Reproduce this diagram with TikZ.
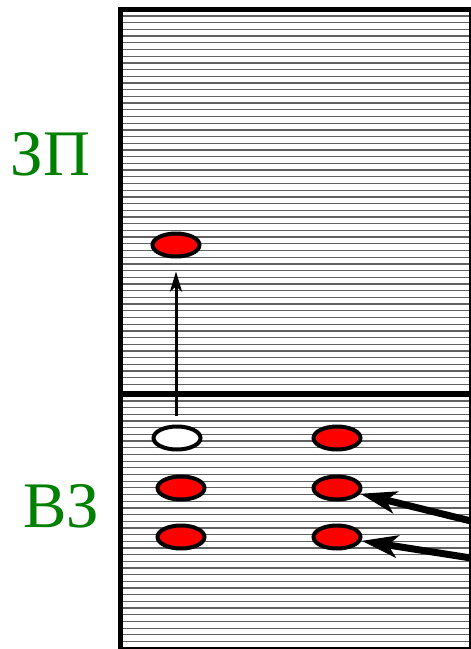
\documentclass[tikz,border=0pt]{standalone}
\usepackage{fontspec}
\setmainfont{Liberation Serif}
\usetikzlibrary{arrows.meta,shapes.geometric}
\definecolor{zgreen}{RGB}{0,128,0}
\definecolor{zred}{RGB}{255,0,0}
\begin{document}
\begin{tikzpicture}[x=1pt,y=-1pt,
  hatch/.style={black!62,line width=1.25pt},
  frame/.style={black,line width=5pt},
  thinframe/.style={black,line width=1.6pt},
  level/.style={ellipse,draw=black,line width=4pt,fill=zred,minimum width=47pt,minimum height=23pt,inner sep=0pt},
  hole/.style={level,fill=white},
  zlabel/.style={font=\fontsize{65}{65}\selectfont,text=zgreen,anchor=base,inner sep=0pt},
  jump/.style={line width=3pt,-{Stealth[length=20pt,width=12pt,inset=5pt]}},
  light/.style={line width=7pt,-{Stealth[length=36pt,width=22pt,inset=9pt]}}]
\useasboundingbox (0,0) rectangle (471,649);
\fill[white] (0,0) rectangle (471,649);
% hatching
\foreach \i in {0,...,55} \draw[hatch] (123,{16+6.7*\i}) -- (470,{16+6.7*\i});
\foreach \i in {0,...,36} \draw[hatch] (123,{401+6.68*\i}) -- (470,{401+6.68*\i});
% frame
\draw[frame] (120.8,7.2) -- (120.8,649);
\draw[frame] (118.3,9.7) -- (471,9.7);
\draw[thinframe] (470.2,9.7) -- (470.2,647.7);
\draw[thinframe] (118.3,647.7) -- (471,647.7);
\draw[line width=5.5pt] (118.3,393.8) -- (471,393.8);
% labels
\node[zlabel] (zp) at (50.5,175) {ЗП};
\node[zlabel] (vz) at (61,527) {ВЗ};
% levels
\node[level] (top) at (176,245) {};
\node[hole] (h) at (177,438) {};
\node[level] (r1) at (337,438) {};
\node[level] (l2) at (181,488) {};
\node[level] (r2) at (337,488) {};
\node[level] (l3) at (181,537) {};
\node[level] (r3) at (337,537) {};
% arrows
\draw[jump,shorten <=8.5pt,shorten >=13pt] (top|-h.north) -- (top.south);
\coordinate (s1) at (471,521);
\coordinate (s2) at (471,558);
\draw[light] (s1) -- (r2);
\draw[light] (s2) -- (r3);
\end{tikzpicture}
\end{document}
